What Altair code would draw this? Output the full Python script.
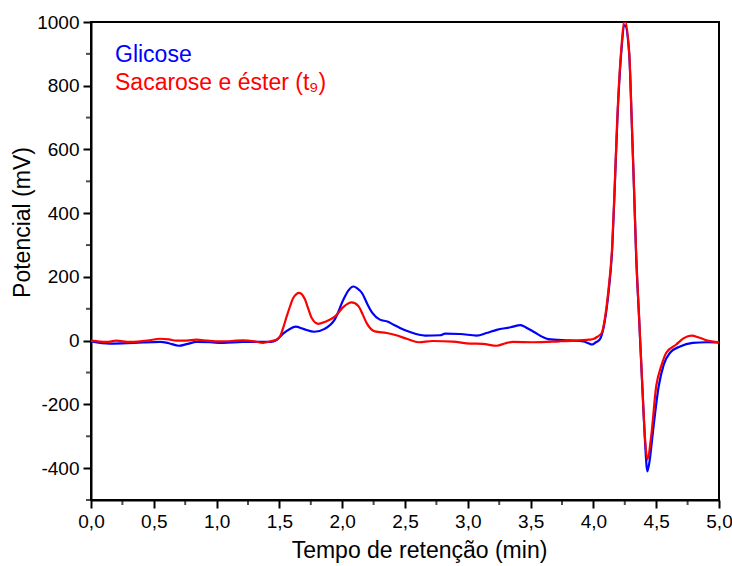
import altair as alt
import pandas as pd

# Glicose (blue)
glicose_x = [0.0, 0.15, 0.34, 0.55, 0.62, 0.70, 0.77, 0.84, 0.95, 1.05, 1.21, 1.35, 1.43, 1.48, 1.53, 1.58,
             1.63, 1.69, 1.78, 1.86, 1.94, 2.01, 2.05, 2.09, 2.12, 2.16, 2.20, 2.24, 2.30, 2.36, 2.41, 2.46,
             2.54, 2.66, 2.78, 2.82, 2.94, 3.07, 3.15, 3.23, 3.34, 3.42, 3.47, 3.52, 3.64, 3.81, 3.92, 3.96,
             3.99, 4.02, 4.05, 4.09, 4.12, 4.15, 4.17, 4.19, 4.22, 4.25, 4.285, 4.305, 4.323, 4.34, 4.365,
             4.39, 4.41, 4.43, 4.45, 4.47, 4.52, 4.56, 4.61, 4.69, 4.79, 4.90, 5.0]
glicose_y = [-2, -9, -7, -4, -8, -16, -10, -4, -5, -7, -4, -4, -4, 3, 22, 36,
             44, 37, 28, 37, 66, 129, 158, 170, 164, 148, 115, 87, 66, 60, 50, 40,
             27, 16, 17, 22, 21, 16, 24, 34, 42, 49, 40, 29, 5, 1, -2, -8,
             -12, -5, 3, 60, 150, 290, 480, 685, 895, 990, 900, 690, 480, 270, 60,
             -150, -310, -410, -370, -300, -143, -75, -38, -18, -7, -5, -6]

# Sacarose e éster (red)
sacarose_x = [0.0, 0.07, 0.125, 0.2, 0.31, 0.45, 0.55, 0.62, 0.68, 0.76, 0.84, 0.93, 1.03, 1.12, 1.21,
              1.30, 1.37, 1.43, 1.48, 1.505, 1.53, 1.558, 1.585, 1.61, 1.658, 1.704, 1.73, 1.757, 1.81,
              1.876, 1.943, 2.01, 2.075, 2.13, 2.16, 2.195, 2.26, 2.354, 2.43, 2.52, 2.61, 2.72, 2.88,
              3.02, 3.12, 3.23, 3.30, 3.36, 3.52, 3.73, 3.89, 3.97, 4.0, 4.03, 4.066, 4.09, 4.12, 4.15,
              4.17, 4.19, 4.22, 4.25, 4.285, 4.305, 4.323, 4.34, 4.365, 4.39, 4.41, 4.43, 4.46, 4.50,
              4.54, 4.58, 4.66, 4.72, 4.78, 4.84, 4.90, 5.0]
sacarose_y = [0, -3, -4, 0, -4, 0, 6, 4, 0, 0, 3, 0, -2, -1, 1,
              -2, -7, -2, 4, 13, 40, 76, 108, 134, 150, 129, 100, 71, 53,
              61, 76, 106, 120, 108, 85, 55, 29, 24, 17, 5, -5, -1, -3,
              -9, -10, -16, -8, -4, -5, -2, 1, 3, 5, 12, 24, 66, 160, 300,
              490, 695, 905, 1005, 905, 695, 485, 278, 66, -144, -300, -373, -300, -143,
              -80, -38, -12, 8, 16, 10, 1, -5]

legend_labels = ["Glicose", "Sacarose e éster (t\u2089)"]
x_major = [0.0, 0.5, 1.0, 1.5, 2.0, 2.5, 3.0, 3.5, 4.0, 4.5, 5.0]
x_minor = [0.25, 0.75, 1.25, 1.75, 2.25, 2.75, 3.25, 3.75, 4.25, 4.75]
y_major = [-400, -200, 0, 200, 400, 600, 800, 1000]
y_minor = [-500, -300, -100, 100, 300, 500, 700, 900]

FONT = "Liberation Sans"

df_g = pd.DataFrame({"x": glicose_x, "y": glicose_y, "i": range(len(glicose_x))})
df_s = pd.DataFrame({"x": sacarose_x, "y": sacarose_y, "i": range(len(sacarose_x))})

x_scale = alt.Scale(domain=[0, 5], nice=False, zero=False)
y_scale = alt.Scale(domain=[-500, 1000], nice=False, zero=False)

x_enc = alt.X(
    "x:Q",
    scale=x_scale,
    axis=alt.Axis(
        values=x_major,
        labelExpr="replace(format(datum.value, '.1f'), '.', ',')",
        tickSize=8,
        title="Tempo de retenção (min)",
        labelOverlap=False,
        labelFlush=False,
        labelPadding=4,
        titlePadding=8,
        titleX=328,
    ),
)
y_enc = alt.Y(
    "y:Q",
    scale=y_scale,
    axis=alt.Axis(
        values=y_major,
        labelExpr="'' + datum.value",
        tickSize=8,
        title="Potencial (mV)",
        labelOverlap=False,
        labelFlush=False,
        labelPadding=4,
        titlePadding=2,
        titleY=200,
    ),
)

blue = alt.Chart(df_g).mark_line(color="#0000ff", strokeWidth=2.2, interpolate="monotone", clip=True).encode(
    x=x_enc, y=y_enc, order="i:Q"
)
red = alt.Chart(df_s).mark_line(color="#ff0000", strokeWidth=2.2, interpolate="monotone", clip=True).encode(
    x="x:Q", y="y:Q", order="i:Q"
)

minor_x = alt.Chart(pd.DataFrame({"x": x_minor})).mark_tick(
    color="black", size=5, thickness=2, orient="vertical", clip=False
).encode(x=alt.X("x:Q", scale=x_scale), y=alt.value(480.5))
minor_y = alt.Chart(pd.DataFrame({"y": y_minor})).mark_tick(
    color="black", size=5, thickness=2, orient="horizontal", clip=False
).encode(y=alt.Y("y:Q", scale=y_scale), x=alt.value(-2.5))

leg1 = alt.Chart(pd.DataFrame({"t": [legend_labels[0]]})).mark_text(
    align="left", baseline="alphabetic", font=FONT, fontSize=23, color="#0000ff"
).encode(x=alt.value(24), y=alt.value(40), text="t:N")
leg2 = alt.Chart(pd.DataFrame({"t": [legend_labels[1]]})).mark_text(
    align="left", baseline="alphabetic", font=FONT, fontSize=23, color="#ff0000"
).encode(x=alt.value(24), y=alt.value(68), text="t:N")

chart = (
    alt.layer(blue, red, minor_x, minor_y, leg1, leg2)
    .properties(
        width=628,
        height=478,
        autosize=alt.AutoSizeParams(type="none"),
        padding={"left": 91, "top": 22, "right": 13, "bottom": 66},
        background="white",
    )
    .configure_view(stroke="black", strokeWidth=2)
    .configure_axis(
        grid=False,
        domainColor="black",
        domainWidth=2,
        tickColor="black",
        tickWidth=2,
        labelFont=FONT,
        labelFontSize=19,
        labelColor="black",
        titleFont=FONT,
        titleFontSize=23,
        titleFontWeight="normal",
        titleColor="black",
    )
)

chart.save("out.html", embed_options={"renderer": "svg", "actions": False})
